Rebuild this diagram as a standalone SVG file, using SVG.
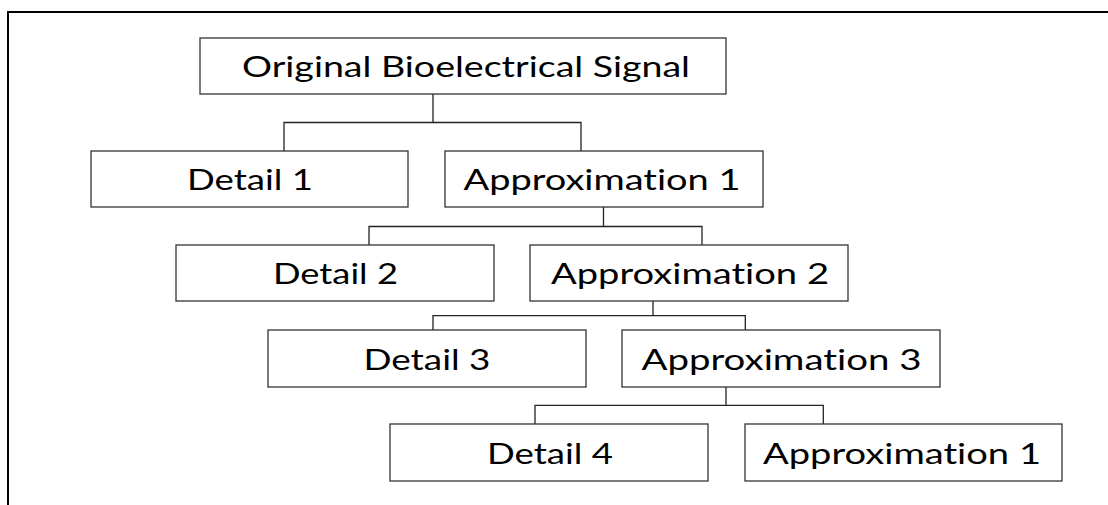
<svg xmlns="http://www.w3.org/2000/svg" width="1108" height="505" viewBox="0 0 1108 505">
<style>
.frame{fill:none;stroke:#000;stroke-width:2}
.box{fill:#fff;stroke:#333;stroke-width:1.3}
.conn{fill:none;stroke:#222;stroke-width:1.3}
.lbl{font-family:Lato,"Open Sans","Liberation Sans",sans-serif;font-size:28px;font-weight:400;fill:#000;text-anchor:middle;font-variant-ligatures:none;font-feature-settings:"liga" 0,"clig" 0}
</style>
<rect width="1108" height="505" fill="#fff"/>
<path class="frame" d="M8,506 V12 H1110"/>
<g id="connectors">
<path class="conn" d="M433,94 V122.5 M284,151 V122.5 H581 V151"/>
<path class="conn" d="M603.5,207 V226.5 M369,245 V226.5 H702 V245"/>
<path class="conn" d="M653,301 V315.7 M433,330 V315.7 H745.3 V330"/>
<path class="conn" d="M726,387 V405.3 M535,424 V405.3 H823.3 V424"/>
</g>
<g id="root"><rect class="box" x="200" y="38" width="526" height="56"/><text class="lbl" x="466" y="77" textLength="448" lengthAdjust="spacingAndGlyphs">Original Bioelectrical Signal</text></g>
<g id="detail1"><rect class="box" x="91" y="151" width="317" height="56"/><text class="lbl" x="250" y="190" textLength="126" lengthAdjust="spacingAndGlyphs">Detail 1</text></g>
<g id="approx1"><rect class="box" x="445" y="151" width="318" height="56"/><text class="lbl" x="602" y="190" textLength="277" lengthAdjust="spacingAndGlyphs">Approximation 1</text></g>
<g id="detail2"><rect class="box" x="176" y="245" width="318" height="56"/><text class="lbl" x="335.5" y="284" textLength="125" lengthAdjust="spacingAndGlyphs">Detail 2</text></g>
<g id="approx2"><rect class="box" x="530" y="245" width="318" height="56"/><text class="lbl" x="690" y="284" textLength="278" lengthAdjust="spacingAndGlyphs">Approximation 2</text></g>
<g id="detail3"><rect class="box" x="268" y="330" width="318" height="57"/><text class="lbl" x="427" y="369.5" textLength="127" lengthAdjust="spacingAndGlyphs">Detail 3</text></g>
<g id="approx3"><rect class="box" x="622" y="330" width="318" height="57"/><text class="lbl" x="781.5" y="369.5" textLength="280" lengthAdjust="spacingAndGlyphs">Approximation 3</text></g>
<g id="detail4"><rect class="box" x="390" y="424" width="318" height="57"/><text class="lbl" x="550" y="463.5" textLength="126" lengthAdjust="spacingAndGlyphs">Detail 4</text></g>
<g id="approx4"><rect class="box" x="745" y="424" width="317" height="57"/><text class="lbl" x="902" y="463.5" textLength="278" lengthAdjust="spacingAndGlyphs">Approximation 1</text></g>
</svg>
